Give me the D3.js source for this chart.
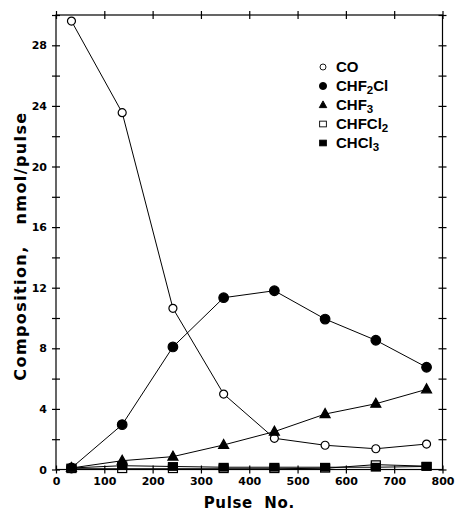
<!DOCTYPE html>
<html>
<head>
<meta charset="utf-8">
<script src="https://cdn.jsdelivr.net/npm/d3@7"></script>
<style>
  body { margin: 0; background: #fff; }
  svg { display: block; }
  .axis path, .axis line { stroke: #000; stroke-width: 1.2; }
  .axis text { font-family: "DejaVu Sans", sans-serif; font-weight: bold; font-size: 11px; fill: #000; }
</style>
</head>
<body>
<div class="start"></div>
<script>
// data
let pulses = [32, 137, 242, 347, 452, 557, 662, 767];
let coVals = [29.6, 23.55, 10.64, 4.98, 2.06, 1.6, 1.37, 1.68];
let chf2clVals = [0.1, 2.96, 8.09, 11.34, 11.8, 9.93, 8.53, 6.75];
let chf3Vals = [0.1, 0.58, 0.85, 1.62, 2.5, 3.66, 4.34, 5.29];
let chfcl2Vals = [0.05, 0.05, 0.05, 0.05, 0.05, 0.08, 0.32, 0.22];
let chcl3Vals = [0.1, 0.25, 0.2, 0.15, 0.15, 0.15, 0.15, 0.2];

let xTicks = [0, 100, 200, 300, 400, 500, 600, 700, 800];
let yTicks = [0, 2, 4, 6, 8, 10, 12, 14, 16, 18, 20, 22, 24, 26, 28, 30];
let yLabelled = [0, 4, 8, 12, 16, 20, 24, 28];

let series = [
  { name: "CO", sub: "", tail: "", values: coVals, shape: "circle", filled: false },
  { name: "CHF", sub: "2", tail: "Cl", values: chf2clVals, shape: "circle", filled: true },
  { name: "CHF", sub: "3", tail: "", values: chf3Vals, shape: "triangle", filled: true },
  { name: "CHFCl", sub: "2", tail: "", values: chfcl2Vals, shape: "square", filled: false },
  { name: "CHCl", sub: "3", tail: "", values: chcl3Vals, shape: "square", filled: true }
];

let width = 456, height = 513;
let plot = { left: 56, right: 442.5, top: 15, bottom: 469.5 };

let svg = d3.select(".start").append("svg")
  .attr("width", width)
  .attr("height", height);

let x = d3.scaleLinear().domain([0, 800]).range([plot.left, plot.right]);
let y = d3.scaleLinear().domain([0, 30]).range([plot.bottom, plot.top]);

// axes, ticks cross the frame line
function cross(g, horiz) {
  g.selectAll(".tick line").attr(horiz ? "y1" : "x1", -4).attr(horiz ? "y2" : "x2", 4);
  g.select(".domain").remove();
}

svg.append("g").attr("class", "axis")
  .attr("transform", "translate(0," + plot.bottom + ")")
  .call(d3.axisBottom(x).tickValues(xTicks).tickSize(4).tickPadding(4))
  .call((g) => cross(g, true));

svg.append("g").attr("class", "axis")
  .attr("transform", "translate(0," + plot.top + ")")
  .call(d3.axisTop(x).tickValues(xTicks).tickSize(4).tickFormat(""))
  .call((g) => cross(g, true));

svg.append("g").attr("class", "axis")
  .attr("transform", "translate(" + plot.left + ",0)")
  .call(d3.axisLeft(y).tickValues(yTicks).tickSize(4).tickPadding(5)
    .tickFormat((d) => yLabelled.includes(d) ? d : ""))
  .call((g) => cross(g, false));

svg.append("g").attr("class", "axis")
  .attr("transform", "translate(" + plot.right + ",0)")
  .call(d3.axisRight(y).tickValues(yTicks).tickSize(4).tickFormat(""))
  .call((g) => cross(g, false));

// frame
svg.append("rect")
  .attr("x", plot.left).attr("y", plot.top)
  .attr("width", plot.right - plot.left).attr("height", plot.bottom - plot.top)
  .attr("fill", "none").attr("stroke", "#000").attr("stroke-width", 1.2);

// lines
let line = d3.line().x((d, i) => x(pulses[i])).y((d) => y(d));
series.forEach((s) => {
  svg.append("path")
    .datum(s.values)
    .attr("d", line)
    .attr("fill", "none")
    .attr("stroke", "#000")
    .attr("stroke-width", 1);
});

function marker(g, s) {
  if (s.shape === "circle") {
    g.append("circle").attr("r", s.filled ? 4.8 : 4);
  } else if (s.shape === "triangle") {
    g.append("path").attr("d", "M0,-5.5L5,3.5L-5,3.5Z");
  } else {
    g.append("rect").attr("x", -4.5).attr("y", -3.8).attr("width", 9).attr("height", 7.6);
  }
  g.selectAll("*")
    .attr("fill", s.filled ? "#000" : "#fff")
    .attr("stroke", "#000")
    .attr("stroke-width", 1.2);
}

// points
series.forEach((s) => {
  s.values.forEach((v, i) => {
    let g = svg.append("g").attr("transform", "translate(" + x(pulses[i]) + "," + y(v) + ")");
    marker(g, s);
  });
});

// legend
let legend = svg.append("g").attr("transform", "translate(323,67)");
series.forEach((s, i) => {
  let row = legend.append("g").attr("transform", "translate(0," + i * 19 + ")");
  let m = row.append("g").attr("transform", "scale(0.75)");
  marker(m, s);
  let t = row.append("text")
    .attr("x", 13).attr("y", 5)
    .attr("font-family", "'Liberation Sans', Arial, sans-serif")
    .attr("font-weight", "bold")
    .attr("font-size", "15px")
    .text(s.name);
  if (s.sub) {
    t.append("tspan").attr("dy", 3).attr("font-size", "11.5px").text(s.sub);
    if (s.tail) t.append("tspan").attr("dy", -3).text(s.tail);
  }
});

// axis titles
svg.append("text")
  .attr("x", (plot.left + plot.right) / 2).attr("y", 508)
  .attr("text-anchor", "middle")
  .attr("font-family", "'DejaVu Sans', sans-serif")
  .attr("font-weight", "bold")
  .attr("font-size", "15px")
  .attr("letter-spacing", "0.6px")
  .style("white-space", "pre")
  .text("Pulse  No.");

svg.append("text")
  .attr("transform", "translate(26,246) rotate(-90)")
  .attr("text-anchor", "middle")
  .attr("font-family", "'DejaVu Sans', sans-serif")
  .attr("font-weight", "bold")
  .attr("font-size", "16px")
  .attr("letter-spacing", "1.4px")
  .style("white-space", "pre")
  .text("Composition,   nmol/pulse");
</script>
</body>
</html>
